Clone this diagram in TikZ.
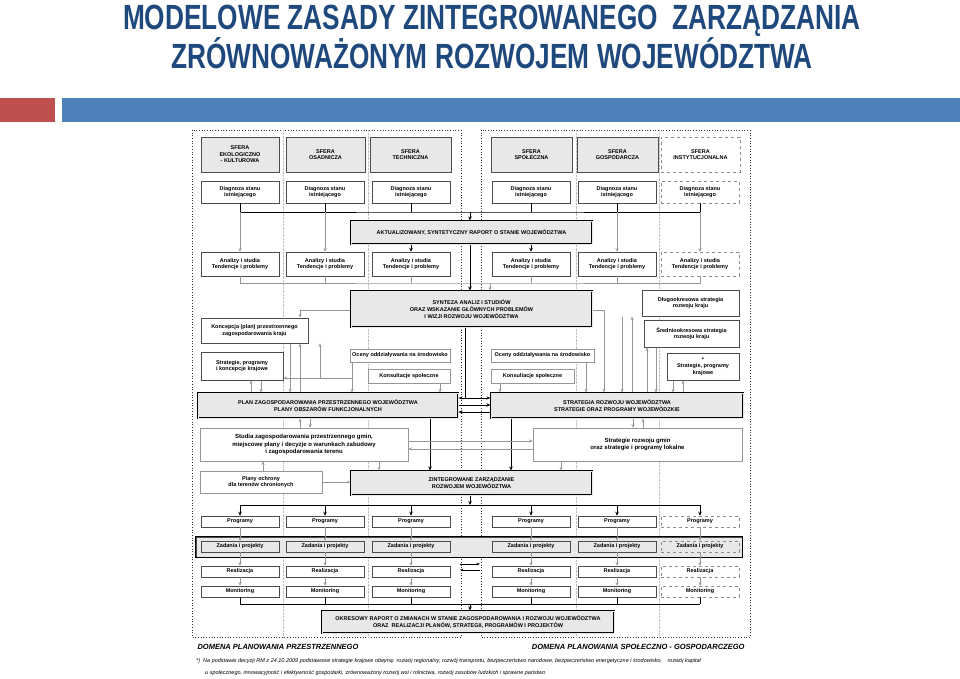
\documentclass[tikz,border=0pt]{standalone}
\usepackage{fontspec}
\setmainfont{Liberation Sans}
\usetikzlibrary{arrows.meta}
\definecolor{titleblue}{RGB}{31,73,125}
\definecolor{barblue}{RGB}{79,129,189}
\definecolor{barred}{RGB}{192,80,77}
\definecolor{boxgray}{RGB}{232,232,232}
\definecolor{linegray}{RGB}{150,150,150}
\tikzset{
  box/.style={draw=black!70, line width=0.5pt, fill=white, inner sep=0pt, align=center,
    font=\fontsize{5.5}{6.6}\selectfont\bfseries},
  graybox/.style={box, fill=boxgray},
  dashbox/.style={box, dashed, draw=black!45},
  mainbox/.style={graybox, draw=black, line width=1.1pt, double=boxgray, double distance=0.6pt},
  blk/.style={line width=0.9pt, -{Stealth[length=4pt,width=3.5pt]}},
  blkline/.style={line width=0.9pt},
  gry/.style={draw=linegray, line width=0.6pt, -{Stealth[length=3.5pt,width=3pt]}},
  gryline/.style={draw=linegray, line width=0.6pt},
  domframe/.style={draw=black!80, dotted, line width=0.7pt},
}
% box from corner (x1,y1) to corner (x2,y2)
\newcommand{\bx}[7]{\node[#6, minimum width={((#4)-(#2))*1pt}, minimum height={((#5)-(#3))*1pt}] (#1) at ({((#2)+(#4))/2},{((#3)+(#5))/2}) {#7};}

\begin{document}
\begin{tikzpicture}[x=1pt,y=1pt,yscale=-1,xscale=1]
        \useasboundingbox (0,0) rectangle (960,679);

        % Title
        \node[font=\fontsize{35}{38}\selectfont\bfseries, text=titleblue, align=center] (title) at (492,37)
          {\scalebox{0.75}[1]{MODELOWE ZASADY ZINTEGROWANEGO\ \ ZARZĄDZANIA}\\[-1pt]\scalebox{0.75}[1]{ZRÓWNOWAŻONYM ROZWOJEM WOJEWÓDZTWA}};
        % Bars
        \fill[barred] (0,98) rectangle (55,122);
        \fill[barblue] (62,98) rectangle (960,122);

        % Domains
        \draw[domframe] (192,130) rectangle (461,637);
        \draw[domframe] (481,130) rectangle (750,637);
        \foreach \sx in {283,368,576,659} {
          \draw[black!25, densely dotted] (\sx,130) -- (\sx,637);
        }

        % Columns
        \foreach \i/\cx in {1/240,2/325,3/411,4/531,5/617,6/700} {
          \ifnum\i=6 \def\st{dashbox}\else\def\st{box}\fi
          \bx{d\i}{\cx-39}{181}{\cx+39}{203}{\st}{Diagnoza stanu\\istniejącego}
          \bx{a\i}{\cx-39}{252}{\cx+39}{276}{\st}{Analizy i studia\\Tendencje i problemy}
          \bx{p\i}{\cx-39}{516}{\cx+39}{527}{\st}{Programy}
          \bx{r\i}{\cx-39}{566}{\cx+39}{577}{\st}{Realizacja}
          \bx{m\i}{\cx-39}{586}{\cx+39}{597}{\st}{Monitoring}
        }
        \bx{s1}{201}{137}{279}{172}{graybox}{SFERA\\EKOLOGICZNO\\- KULTUROWA}
        \bx{s2}{286}{137}{365}{172}{graybox}{SFERA\\OSADNICZA}
        \bx{s3}{370}{137}{451}{172}{graybox}{SFERA\\TECHNICZNA}
        \bx{s4}{491}{137}{572}{172}{graybox}{SFERA\\SPOŁECZNA}
        \bx{s5}{577}{137}{658}{172}{graybox}{SFERA\\GOSPODARCZA}
        \bx{s6}{661}{137}{740}{172}{dashbox}{SFERA\\INSTYTUCJONALNA}

        % Zadania band
        \bx{zad}{196}{537}{742}{557}{graybox}{}
        \draw[line width=1.1pt] (zad.north west) rectangle (zad.south east);
        \foreach \i/\cx in {1/240,2/325,3/411,4/531,5/617,6/700} {
          \ifnum\i=6 \def\st{dashbox}\else\def\st{box}\fi
          \bx{z\i}{\cx-39}{541}{\cx+39}{552}{\st, fill=boxgray}{Zadania i projekty}
        }

        % Central boxes
        \bx{raport}{351}{221}{592}{244}{mainbox}{AKTUALIZOWANY, SYNTETYCZNY RAPORT O STANIE WOJEWÓDZTWA}
        \bx{synteza}{351}{291}{592}{327}{mainbox}{SYNTEZA ANALIZ I STUDIÓW\\ORAZ WSKAZANIE GŁÓWNYCH PROBLEMÓW\\I WIZJI ROZWOJU WOJEWÓDZTWA}
        \bx{dlugo}{642}{290}{739}{316}{box, line width=1pt}{Długookresowa strategia\\rozwoju kraju}
        \bx{srednio}{644}{320}{739}{347}{box, line width=1pt}{Średniookresowa strategia\\rozwoju kraju}
        \bx{gwiazd}{667}{353}{739}{380}{box, line width=1pt}{*\\Strategie, programy\\krajowe}
        \bx{koncep}{201}{318}{308}{343}{box, line width=1pt}{Koncepcja (plan) przestrzennego\\zagospodarowania kraju}
        \bx{krajowe}{201}{352}{283}{380}{box, line width=1pt}{Strategie, programy\\i koncepcje krajowe}
        \bx{ocenyL}{350}{349}{450}{362}{box, draw=linegray}{Oceny oddziaływania na środowisko}
        \bx{ocenyR}{491}{349}{594}{362}{box, draw=linegray}{Oceny oddziaływania na środowisko}
        \bx{konsL}{368}{369}{450}{383}{box, draw=linegray}{Konsultacje społeczne}
        \bx{konsR}{491}{369}{574}{383}{box, draw=linegray}{Konsultacje społeczne}
        \bx{plan}{198}{393}{458}{418}{mainbox}{PLAN ZAGOSPODAROWANIA PRZESTRZENNEGO WOJEWÓDZTWA\\PLANY OBSZARÓW FUNKCJONALNYCH}
        \bx{strat}{491}{393}{743}{418}{mainbox}{STRATEGIA ROZWOJU WOJEWÓDZTWA\\STRATEGIE ORAZ PROGRAMY WOJEWÓDZKIE}
        \bx{studia}{200}{428}{408}{461}{box, draw=linegray, font=\fontsize{6}{7.6}\selectfont\bfseries}{Studia zagospodarowania przestrzennego gmin,\\miejscowe plany i decyzje o warunkach zabudowy\\i zagospodarowania terenu}
        \bx{gminy}{533}{428}{742}{461}{box, draw=linegray, font=\fontsize{6}{7.6}\selectfont\bfseries}{Strategie rozwoju gmin\\oraz strategie i programy lokalne}
        \bx{ochrona}{200}{471}{322}{493}{box, draw=linegray}{Plany ochrony\\dla terenów chronionych}
        \bx{zint}{351}{471}{592}{495}{mainbox}{ZINTEGROWANE ZARZĄDZANIE\\ROZWOJEM WOJEWÓDZTWA}
        \bx{okres}{322}{611}{614}{633}{mainbox}{OKRESOWY RAPORT O ZMIANACH W STANIE ZAGOSPODAROWANIA I ROZWOJU WOJEWÓDZTWA\\ORAZ\ \ REALIZACJI PLANÓW, STRATEGII, PROGRAMÓW I PROJEKTÓW}

        % Buses
        \coordinate (bus1) at (470,212);
        \coordinate (bus2) at (470,283);
        \coordinate (bus3) at (470,505);
        \coordinate (bus4) at (470,604);
        \draw[blkline] (d1.south) |- (bus1) -| (d6.south);
        \foreach \i in {2,3,4,5} { \draw[blkline] (d\i.south) -- (d\i.south |- bus1); }
        \draw[blk] (bus1) -- (raport.north -| bus1);
        \foreach \i in {1,2,5,6} { \draw[gry] (d\i.south |- bus1) -- (a\i.north); }
        \foreach \i in {3,4} { \draw[blk] (a\i.north |- raport.south) -- (a\i.north); }
        \draw[gryline] (a1.south) |- (bus2) -| (a6.south);
        \foreach \i in {2,3,4,5} { \draw[gryline] (a\i.south) -- (a\i.south |- bus2); }
        \draw[gry] (490,283) -- (synteza.north -| 490,0);
        \draw[blk] (raport.south -| bus1) -- (synteza.north -| bus1);

        % Synteza links
        \draw[blkline] (synteza.south -| 465,0) -- (465,398);
        \draw[line width=0.9pt, {Stealth[length=4pt]}-{Stealth[length=4pt]}] (plan.east |- 0,398) -- (strat.west |- 0,398);
        \draw[blk] (plan.east |- 0,405) -- (strat.west |- 0,405);
        \draw[blk] (strat.west |- 0,412) -- (plan.east |- 0,412);
        \draw[gry] (synteza.west |- 0,310) -| (300,0 |- koncep.north);
        \draw[gry] (synteza.east |- 0,310) -| (604,0 |- strat.north);
        \draw[gry] (622,0 |- dlugo.south) -- (622,0 |- strat.north);
        \draw[gry] (632,0 |- strat.north) -- (632,0 |- dlugo.south);
        \draw[gry] (656,0 |- srednio.south) -- (656,0 |- strat.north);
        \draw[gry] (647,0 |- strat.north) -- (647,0 |- srednio.south);
        \draw[gry] (673,0 |- gwiazd.south) -- (673,0 |- strat.north);
        \draw[gry] (683,0 |- strat.north) -- (683,0 |- gwiazd.south);
        \draw[gry] (300,0 |- plan.north) -- (300,0 |- koncep.south) ;
        \draw[gry] (290,0 |- koncep.south) -- (290,0 |- plan.north);
        \draw[gry] (251,0 |- plan.north) -- (251,0 |- krajowe.south);
        \draw[gry] (261,0 |- krajowe.south) -- (261,0 |- plan.north);
        \draw[gry] (ocenyL.south -| 352,0) |- (krajowe.east |- 0,378);
        \draw[gry] (320,378) -- (320,0 |- koncep.south);
        \draw[gry] (352,378) -- (352,0 |- plan.north);
        \draw[gry] (konsL.south -| 440,0) -- (440,0 |- plan.north);
        \draw[gry] (ocenyR.south -| 586,0) -- (586,0 |- strat.north);
        \draw[gry] (konsR.south -| 500,0) -- (500,0 |- strat.north);

        % Lower links
        \draw[blk] (plan.south -| 430,0) -- (430,0 |- zint.north);
        \draw[blk] (strat.south -| 511,0) -- (511,0 |- zint.north);
        \draw[gry] (300,0 |- studia.north) -- (300,0 |- plan.south);
        \draw[gry] (310,0 |- plan.south) -- (310,0 |- studia.north);
        \draw[gry] (633,0 |- strat.south) -- (633,0 |- gminy.north);
        \draw[gry] (643,0 |- gminy.north) -- (643,0 |- strat.south);
        \draw[gry] (studia.east |- 0,441) -- (gminy.west |- 0,441);
        \draw[gry] (gminy.west |- 0,449) -- (studia.east |- 0,449);
        \draw[gry] (studia.south -| 379,0) -- (379,0 |- zint.north);
        \draw[gry] (gminy.south -| 561,0) -- (561,0 |- zint.north);
        \draw[gry] (ochrona.north -| 263,0) -- (263,0 |- studia.south);
        \draw[gry] (ochrona.east) -- (ochrona.east -| zint.west);

        % Execution
        \draw[blk] (zint.south -| bus3) -- (bus3);
        \draw[blkline] (p1.north |- bus3) -- (p6.north |- bus3);
        \foreach \i in {1,...,6} {
          \draw[blk] (p\i.north |- bus3) -- (p\i.north);
          \draw[gry] (p\i.south) -- (z\i.north);
          \draw[gry] (z\i.south) -- (r\i.north);
          \draw[gry] (r\i.south) -- (m\i.north);
          \draw[blkline] (m\i.south) -- (m\i.south |- bus4);
        }
        \draw[blkline] (m1.south |- bus4) -- (m6.south |- bus4);
        \draw[blk] (bus4) -- (okres.north -| bus4);
        \draw[line width=0.7pt, -{Stealth[length=3.5pt]}] (460,564) -- (480,564);
        \draw[line width=0.7pt, -{Stealth[length=3.5pt]}] (480,570) -- (460,570);

        % Labels
        \node[anchor=west, font=\fontsize{7.5}{8}\selectfont\bfseries\itshape] (domL) at (194,647) {DOMENA PLANOWANIA PRZESTRZENNEGO};
        \node[anchor=east, font=\fontsize{7.5}{8}\selectfont\bfseries\itshape] (domR) at (748,647) {DOMENA PLANOWANIA SPOŁECZNO - GOSPODARCZEGO};
        \node[anchor=north west, align=left, font=\fontsize{5.5}{12}\selectfont\itshape, inner sep=0pt] (foot) at (196,658)
          {*)\ \ Na podstawie decyzji RM z 24.10.2009 podstawowe strategie krajowe obejmą: rozwój regionalny, rozwój transportu, bezpieczeństwo narodowe, bezpieczeństwo energetyczne i środowisko,\quad rozwój kapitał\\
          \hspace*{9pt}u społecznego, innowacyjność i efektywność gospodarki, zrównoważony rozwój wsi i rolnictwa, rozwój zasobów ludzkich i sprawne państwo};
\end{tikzpicture}
\end{document}
